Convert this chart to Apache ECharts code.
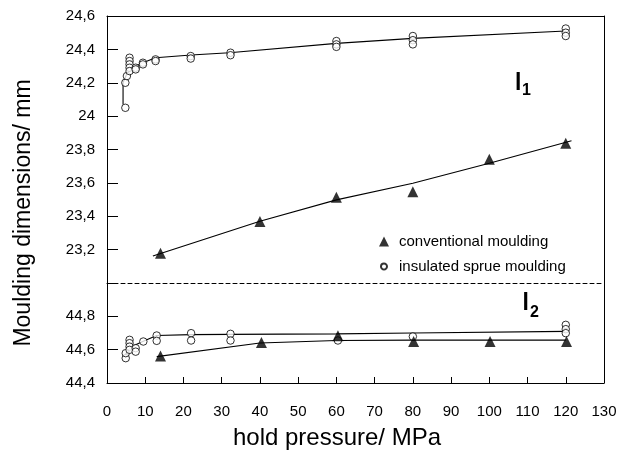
<!DOCTYPE html>
<html>
<head>
<meta charset="utf-8">
<script src="https://cdn.jsdelivr.net/npm/echarts@6/dist/echarts.min.js"></script>
<style>
html,body{margin:0;padding:0;background:#fff;}
#chart{width:630px;height:456px;}
</style>
</head>
<body>
<div id="chart"></div>
<script>
// ---- data (x = hold pressure MPa, y = dimension mm) ----
var xTicks = [0,10,20,30,40,50,60,70,80,90,100,110,120,130];

// l1 panel
var convL1Points = [[14,23.178],[40,23.368],[60,23.514],[80,23.547],[100,23.741],[120,23.837]];
var convL1Line = [[12,23.162],[40,23.37],[60,23.498],[80,23.598],[100,23.718],[121.5,23.853]];
var insL1Points = [[4.8,24.05],[4.8,24.20],[5.2,24.24],[5.9,24.35],[5.9,24.33],[5.9,24.31],[5.9,24.29],[5.9,24.27],
  [7.5,24.29],[7.5,24.28],[9.4,24.32],[9.4,24.31],[12.7,24.34],[12.7,24.33],[21.9,24.36],[21.9,24.345],
  [32.3,24.38],[32.3,24.365],[60,24.45],[60,24.43],[60,24.415],[80,24.48],[80,24.455],[80,24.43],
  [120,24.525],[120,24.50],[120,24.48]];
var insL1Line = [[4.2,24.07],[4.2,24.2],[5.3,24.26],[7.6,24.30],[9.4,24.32],[12.7,24.35],[22,24.366],[32,24.38],[60,24.436],[80,24.466],[120,24.51]];

// l2 panel
var convL2Points = [[14,44.562],[40.4,44.643],[60.4,44.683],[80.2,44.649],[100.2,44.649],[120.2,44.649]];
var convL2Line = [[13,44.558],[40,44.64],[60,44.655],[80,44.657],[100,44.657],[120,44.657]];
var insL2Points = [[4.9,44.549],[4.9,44.579],[5.9,44.659],[5.9,44.639],[5.9,44.618],[5.9,44.599],[7.5,44.609],[7.5,44.588],
  [9.5,44.649],[13,44.685],[13,44.653],[22,44.699],[22,44.655],[32.3,44.695],[32.3,44.655],[60.4,44.655],[80,44.679],
  [120,44.749],[120,44.723],[120,44.699]];
var insL2Line = [[4.5,44.56],[6,44.61],[7.5,44.63],[9.5,44.65],[13,44.685],[22,44.69],[32,44.692],[60,44.695],[80,44.70],[120,44.71]];

var seriesNames = ['conventional moulding','insulated sprue moulding'];
var panelLabels = ['l','1','l','2'];
var xTitle = 'hold pressure/ MPa';
var yTitle = 'Moulding dimensions/ mm';

// ---- chart ----
var FONT = '"Liberation Sans", Arial, Helvetica, sans-serif';
var chart = echarts.init(document.getElementById('chart'), null, {renderer:'canvas'});

function fmt(v){
  var r = Math.round(v*10)/10;
  if (Math.abs(r-23)<1e-6 || Math.abs(r-45)<1e-6) return '';
  return String(r).replace('.', ',');
}
var blk = {color:'#000', width:1};
function lineAxis(extra){
  return Object.assign({
    type:'value', min:0, max:130, interval:10,
    axisLine:{show:true, onZero:false, lineStyle:blk},
    axisTick:{show:false}, axisLabel:{show:false}, splitLine:{show:false}
  }, extra);
}
function yLineAxis(extra){
  return Object.assign({
    type:'value',
    axisLine:{show:true, onZero:false, lineStyle:blk},
    axisTick:{show:false}, axisLabel:{show:false}, splitLine:{show:false}
  }, extra);
}
var tickLabel = {color:'#000', fontSize:15, fontFamily:FONT};

function lineSeries(data, xi, yi){
  return {type:'line', data:data, xAxisIndex:xi, yAxisIndex:yi, showSymbol:false, symbol:'none',
    lineStyle:{color:'#000', width:1.1}, z:2, silent:true, animation:false};
}
function triSeries(data, xi, yi){
  return {type:'scatter', name:seriesNames[0], data:data, xAxisIndex:xi, yAxisIndex:yi,
    symbol:'triangle', symbolSize:11, itemStyle:{color:'#000'}, z:4, animation:false};
}
function circSeries(data, xi, yi){
  return {type:'scatter', name:seriesNames[1], data:data, xAxisIndex:xi, yAxisIndex:yi,
    symbol:'circle', symbolSize:7.5, itemStyle:{color:'#fff', borderColor:'#000', borderWidth:1}, z:3, animation:false};
}

var option = {
  backgroundColor:'#fff',
  animation:false,
  grid:[
    {left:107, right:26, top:16, height:267},
    {left:107, right:26, top:283, height:100}
  ],
  xAxis:[
    lineAxis({gridIndex:0, position:'bottom', axisLine:{show:true, onZero:false, lineStyle:{color:'#000', width:1, type:[4,3]}}}),
    lineAxis({gridIndex:0, position:'top'}),
    {type:'value', gridIndex:1, position:'bottom', min:0, max:130, interval:10,
     axisLine:{show:true, onZero:false, lineStyle:blk},
     axisTick:{show:true, inside:true, length:6, lineStyle:blk},
     axisLabel:Object.assign({margin:21, formatter:function(v){return String(v);}}, tickLabel),
     splitLine:{show:false}}
  ],
  yAxis:[
    {type:'value', gridIndex:0, position:'left', min:23, max:24.6, interval:0.2,
     axisLine:{show:true, onZero:false, lineStyle:blk},
     axisTick:{show:true, inside:true, length:11, lineStyle:blk},
     axisLabel:Object.assign({margin:12, formatter:fmt, padding:[7,0,0,0]}, tickLabel),
     splitLine:{show:false}},
    yLineAxis({gridIndex:0, position:'right', min:23, max:24.6}),
    {type:'value', gridIndex:1, position:'left', min:44.4, max:45.0, interval:0.2,
     axisLine:{show:true, onZero:false, lineStyle:blk},
     axisTick:{show:true, inside:true, length:11, lineStyle:blk},
     axisLabel:Object.assign({margin:12, formatter:fmt, padding:[5,0,0,0]}, tickLabel),
     splitLine:{show:false}},
    yLineAxis({gridIndex:1, position:'right', min:44.4, max:45.0})
  ],
  legend:{
    orient:'vertical', left:373, top:229, itemWidth:10, itemHeight:10, itemGap:10,
    selectedMode:false,
    data:[{name:seriesNames[0], icon:'triangle'},{name:seriesNames[1], icon:'path://M5,2A3,3 0 1,1 4.99,2Z M0,0 L0,0.01 M10,10 L10,9.99'}],
    textStyle:{color:'#000', fontSize:15, fontFamily:FONT, lineHeight:14, padding:[0,0,0,5]}
  },
  series:[
    lineSeries(insL1Line,0,0),
    lineSeries(convL1Line,0,0),
    lineSeries(insL2Line,2,2),
    lineSeries(convL2Line,2,2),
    circSeries(insL1Points,0,0),
    triSeries(convL1Points,0,0),
    circSeries(insL2Points,2,2),
    triSeries(convL2Points,2,2)
  ],
  graphic:[
    {type:'text', x:515, y:83.5, style:{text:panelLabels[0], font:'bold 23px '+FONT, fill:'#000', verticalAlign:'middle', align:'left'}},
    {type:'text', x:522, y:91, style:{text:panelLabels[1], font:'bold 16px '+FONT, fill:'#000', verticalAlign:'middle', align:'left'}},
    {type:'text', x:522.5, y:304, style:{text:panelLabels[2], font:'bold 23px '+FONT, fill:'#000', verticalAlign:'middle', align:'left'}},
    {type:'text', x:530, y:313, style:{text:panelLabels[3], font:'bold 16px '+FONT, fill:'#000', verticalAlign:'middle', align:'left'}},
    {type:'text', x:337, y:438, style:{text:xTitle, font:'24px '+FONT, fill:'#000', verticalAlign:'middle', align:'center'}},
    {type:'text', x:24, y:213, rotation:Math.PI/2, style:{text:yTitle, font:'23px '+FONT, fill:'#000', verticalAlign:'middle', align:'center'}}
  ]
};
chart.setOption(option);
</script>
</body>
</html>
